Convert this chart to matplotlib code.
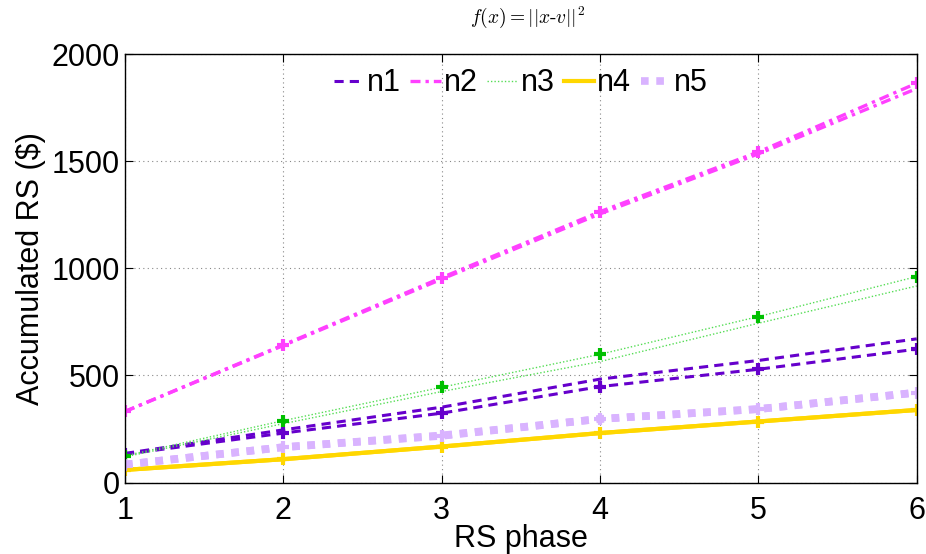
"""
    accumulated RS per phase, f(x) = ||x-v||^2
"""

import matplotlib
matplotlib.use("Agg")
import matplotlib.pyplot as plt

plt.rcParams["font.family"] = ["Liberation Sans", "DejaVu Sans"]
plt.rcParams["mathtext.fontset"] = "cm"

phase = [1, 2, 3, 4, 5, 6]
names = ["n1", "n2", "n3", "n4", "n5"]

# plain lines (legend entries)
n1 = [136, 246, 352, 483, 570, 671]
n2 = [332, 640, 950, 1255, 1535, 1840]
n3 = [120, 275, 425, 565, 744, 918]
n4 = [59, 109, 168, 231, 285, 339]
n5 = [84, 165, 220, 297, 343, 420]

# lines with "+" markers
n1_mk = [132, 231, 324, 448, 529, 623]
n2_mk = [332, 643, 957, 1265, 1544, 1865]
n3_mk = [125, 289, 445, 599, 775, 962]
n4_mk = [59, 109, 168, 231, 285, 339]
n5_mk = [84, 165, 218, 297, 343, 420]

colors = ["#6600CC", "#FF40FF", "#55DD55", "#FFD700", "#D9B3FF"]
mk_colors = ["#6600CC", "#FF40FF", "#00C000", "#FFD700", "#D9B3FF"]
styles = [(0, (3, 2)), (0, (3, 1.5, 1, 1.5)), (0, (1, 1.5)), "-", (0, (1, 1))]
widths = [2.2, 2.4, 1.0, 3.0, 5.5]

fig = plt.figure(figsize=(9.26, 5.54), dpi=100)
ax = fig.add_axes([0.135, 0.129, 0.855, 0.773])

plain = [n1, n2, n3, n4, n5]
marked = [n1_mk, n2_mk, n3_mk, n4_mk, n5_mk]
handles = []
for i in range(5):
    h, = ax.plot(phase, plain[i], color=colors[i], linestyle=styles[i],
                 linewidth=widths[i], label=names[i])
    handles.append(h)
    ax.plot(phase, marked[i], color=colors[i], linestyle=styles[i],
            linewidth=widths[i], marker="+", markersize=9,
            markeredgewidth=3, markeredgecolor=mk_colors[i])

ax.set_xlim(1, 6)
ax.set_ylim(0, 2000)
ax.set_xticks(phase)
ax.set_yticks([0, 500, 1000, 1500, 2000])
ax.grid(True, color="#888888", linestyle=(0, (1, 3)), linewidth=0.8)
ax.tick_params(direction="in", top=True, right=True, labelsize=22,
               length=6, width=0.8)
ax.tick_params(axis="x", pad=10)
for s in ax.spines.values():
    s.set_linewidth(1.0)

ax.set_xlabel("RS phase", fontsize=22, labelpad=-2)
ax.set_ylabel("Accumulated RS (\\$)", fontsize=22, labelpad=4)
fig.text(0.57, 0.968, r"$f(x) = ||x\text{-}v||^2$", fontsize=14,
         ha="center", va="center")

ax.legend(handles=handles, loc="upper center", bbox_to_anchor=(0.5, 1.01),
          ncol=5, frameon=False, fontsize=22, handlelength=1.0,
          handletextpad=0.1, columnspacing=0.3, borderaxespad=0.2)

fig.savefig("out.png", dpi=100)
